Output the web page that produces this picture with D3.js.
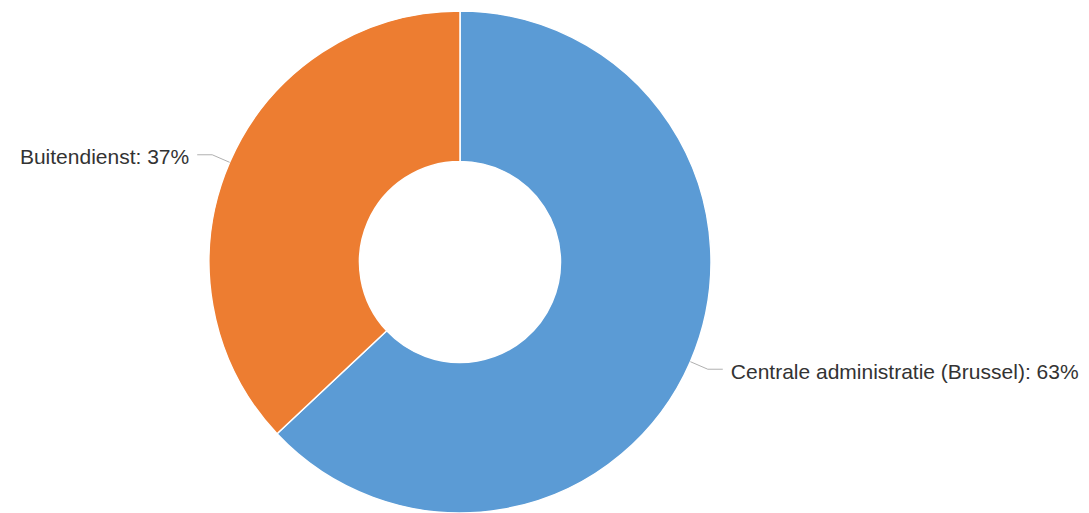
<!DOCTYPE html>
<html>
<head>
<meta charset="utf-8">
<script src="https://cdn.jsdelivr.net/npm/d3@7"></script>
<style>
  html, body { margin: 0; padding: 0; background: #fff; }
  svg { display: block; }
</style>
</head>
<body>
<svg id="chart" width="1089" height="513"></svg>
<script>
// Staff distribution by location
const categories = ["Centrale administratie (Brussel)", "Buitendienst"];
const values = [63, 37];
const colors = ["#5b9bd5", "#ed7d31"];

const width = 1089, height = 513;
const cx = 460, cy = 262;
const outerR = 251, innerR = 100.5;

const svg = d3.select("#chart");
const g = svg.append("g").attr("transform", `translate(${cx},${cy})`);

const pie = d3.pie().sort(null).value(d => d.value);
const arcs = pie(categories.map((c, i) => ({ name: c, value: values[i], color: colors[i] })));

const arc = d3.arc().innerRadius(innerR).outerRadius(outerR);

g.selectAll("path.slice")
  .data(arcs)
  .join("path")
  .attr("class", "slice")
  .attr("d", arc)
  .attr("fill", d => d.data.color)
  .attr("stroke", "#ffffff")
  .attr("stroke-width", 1.5)
  .attr("stroke-linejoin", "round");

// Data labels with connectors
const elbowR = outerR + 19;
const runLen = 15;
const gap = 8;

const labels = g.selectAll("g.label").data(arcs).join("g").attr("class", "label");

labels.each(function (d) {
  const a = (d.startAngle + d.endAngle) / 2;
  const sx = Math.sin(a), sy = -Math.cos(a);
  const right = sx >= 0;
  const p0 = [outerR * sx, outerR * sy];
  const p1 = [elbowR * sx, elbowR * sy];
  const p2 = [p1[0] + (right ? runLen : -runLen), p1[1]];
  const sel = d3.select(this);
  sel.append("path")
    .attr("d", d3.line()([p0, p1, p2]))
    .attr("fill", "none")
    .attr("stroke", "#b0b0b0")
    .attr("stroke-width", 1);
  sel.append("text")
    .attr("x", p2[0] + (right ? gap : -gap))
    .attr("y", p2[1] + 9.5)
    .attr("text-anchor", right ? "start" : "end")
    .attr("font-family", "'Liberation Sans', Arial, Helvetica, sans-serif")
    .attr("font-size", 21)
    .attr("fill", "#333333")
    .text(`${d.data.name}: ${d.data.value}%`);
});
</script>
</body>
</html>
